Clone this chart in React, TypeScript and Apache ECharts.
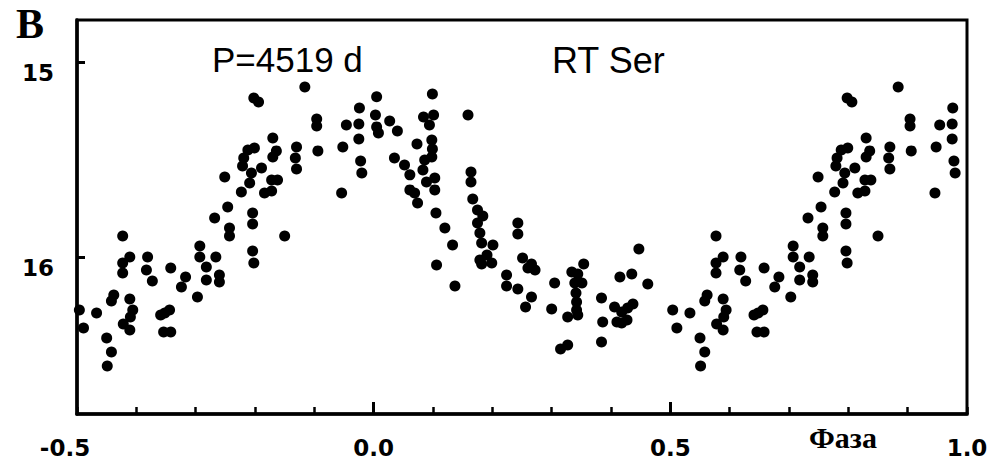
import React, { useEffect, useRef } from "react";
import * as echarts from "echarts";

// Phase-folded B light curve of RT Ser (phase, magnitude)
// Observations with phase in [-0.5, 0): repeated at phase + 1 on the plot
const pointsBeforeMax: [number, number][] = [
  [-0.116, 15.128], [-0.202, 15.185], [-0.194, 15.205], [-0.024, 15.236],
  [-0.096, 15.292], [-0.096, 15.328], [-0.046, 15.323], [-0.025, 15.318],
  [-0.170, 15.390], [-0.025, 15.395], [-0.201, 15.441], [-0.212, 15.451],
  [-0.170, 15.487], [-0.164, 15.456], [-0.130, 15.436], [-0.094, 15.456],
  [-0.052, 15.436], [-0.219, 15.492], [-0.221, 15.533], [-0.132, 15.492],
  [-0.130, 15.549], [-0.189, 15.544], [-0.022, 15.508], [-0.020, 15.569],
  [-0.206, 15.569], [-0.251, 15.590], [-0.209, 15.621], [-0.172, 15.605],
  [-0.162, 15.605], [-0.223, 15.667], [-0.184, 15.672], [-0.172, 15.662],
  [-0.054, 15.672], [-0.246, 15.744], [-0.268, 15.800], [-0.204, 15.774],
  [-0.204, 15.831], [-0.243, 15.851], [-0.243, 15.892], [-0.423, 15.892],
  [-0.150, 15.892], [-0.293, 15.944], [-0.293, 16.000], [-0.266, 16.000],
  [-0.411, 16.000], [-0.423, 16.031], [-0.423, 16.082], [-0.381, 16.000],
  [-0.383, 16.067], [-0.373, 16.123], [-0.342, 16.056], [-0.282, 16.051],
  [-0.282, 16.118], [-0.260, 16.092], [-0.260, 16.128], [-0.317, 16.103],
  [-0.324, 16.154], [-0.297, 16.205], [-0.204, 15.969], [-0.202, 16.031],
  [-0.438, 16.195], [-0.442, 16.226], [-0.411, 16.215], [-0.406, 16.272],
  [-0.410, 16.308], [-0.422, 16.344], [-0.411, 16.374], [-0.496, 16.272],
  [-0.467, 16.287], [-0.489, 16.364], [-0.359, 16.297], [-0.352, 16.287],
  [-0.344, 16.272], [-0.354, 16.385], [-0.342, 16.385], [-0.450, 16.415],
  [-0.442, 16.487], [-0.449, 16.559],
];

// Observations with phase in [0, 0.5]
const pointsAfterMax: [number, number][] = [
  [0.005, 15.179], [0.099, 15.164], [0.003, 15.272], [0.027, 15.303],
  [0.005, 15.333], [0.008, 15.364], [0.040, 15.354], [0.084, 15.282],
  [0.101, 15.272], [0.094, 15.323], [0.159, 15.272], [0.073, 15.421],
  [0.098, 15.400], [0.099, 15.446], [0.035, 15.492], [0.052, 15.528],
  [0.086, 15.503], [0.098, 15.487], [0.083, 15.554], [0.103, 15.595],
  [0.089, 15.615], [0.061, 15.579], [0.061, 15.656], [0.069, 15.672],
  [0.103, 15.656], [0.074, 15.723], [0.164, 15.564], [0.164, 15.615],
  [0.105, 15.774], [0.167, 15.703], [0.120, 15.851], [0.175, 15.759],
  [0.184, 15.790], [0.175, 15.826], [0.179, 15.877], [0.243, 15.826],
  [0.243, 15.882], [0.182, 15.928], [0.133, 15.938], [0.201, 15.938],
  [0.106, 16.041], [0.137, 16.149], [0.179, 16.015], [0.191, 15.990],
  [0.199, 16.031], [0.182, 16.036], [0.251, 16.005], [0.260, 16.056],
  [0.272, 16.067], [0.266, 16.036], [0.224, 16.092], [0.224, 16.149],
  [0.243, 16.164], [0.266, 16.205], [0.256, 16.256], [0.305, 16.133],
  [0.300, 16.267], [0.327, 16.308], [0.315, 16.472], [0.327, 16.451],
  [0.334, 16.077], [0.344, 16.087], [0.354, 16.036], [0.339, 16.133],
  [0.341, 16.185], [0.342, 16.231], [0.342, 16.272], [0.344, 16.297],
  [0.351, 16.133], [0.384, 16.210], [0.386, 16.333], [0.384, 16.436],
  [0.415, 16.103], [0.435, 16.087], [0.447, 15.959], [0.462, 16.138],
  [0.406, 16.256], [0.418, 16.282], [0.428, 16.262], [0.437, 16.241],
  [0.418, 16.338], [0.427, 16.323], [0.410, 16.333],
];

const xLabelValues = [-0.5, 0.0, 0.5, 1.0];
const xMajorTickValues = [0.0, 0.5];
const yTickValues = [15, 16];

const periodText = "P=4519 d";
const starName = "RT Ser";
const bandName = "B";
const xAxisName = "Фаза";

export default function App() {
  const ref = useRef<HTMLDivElement>(null);

  useEffect(() => {
    if (!ref.current) return;
    const chart = echarts.init(ref.current, undefined, { renderer: "svg" });

    const allPoints: [number, number][] = [
      ...pointsBeforeMax,
      ...pointsAfterMax,
      ...pointsBeforeMax.map(([p, m]) => [p + 1, m] as [number, number]),
    ];

    const labelFont = {
      fontFamily: "DejaVu Sans",
      fontWeight: "bold" as const,
      fontSize: 23,
      color: "#000",
    };

    const yMin = 14.785;
    const yMax = 16.805;

    chart.setOption({
      animation: false,
      backgroundColor: "#ffffff",
      grid: {
        left: 77,
        right: 26,
        top: 20,
        bottom: 50,
        show: true,
        borderColor: "#000",
        borderWidth: 3,
        backgroundColor: "transparent",
      },
      xAxis: [
        {
          type: "value",
          min: -0.5,
          max: 1.0,
          interval: 0.1,
          position: "bottom",
          axisLine: { show: true, onZero: false, lineStyle: { color: "#000", width: 3.5 } },
          axisTick: { show: true, inside: true, length: 7, lineStyle: { color: "#000", width: 2.5 } },
          splitLine: { show: false },
          axisLabel: {
            show: true,
            customValues: xLabelValues,
            margin: 22,
            ...labelFont,
            formatter: (v: number) =>
              v < 0 ? `{neg|${v.toFixed(1)}}` : v.toFixed(1),
            rich: {
              neg: { ...labelFont, padding: [0, 24, 0, 0] },
            },
          },
        },
        {
          type: "value",
          min: -0.5,
          max: 1.0,
          position: "bottom",
          axisLine: { show: false, onZero: false },
          axisLabel: { show: false },
          splitLine: { show: false },
          axisTick: {
            show: true,
            inside: true,
            length: 12,
            customValues: xMajorTickValues,
            lineStyle: { color: "#000", width: 3 },
          },
        },
      ],
      yAxis: {
        type: "value",
        inverse: true,
        min: yMin,
        max: yMax,
        axisLine: { show: true, onZero: false, lineStyle: { color: "#000", width: 3.5 } },
        axisTick: {
          show: true,
          inside: true,
          length: 8,
          customValues: yTickValues,
          lineStyle: { color: "#000", width: 3 },
        },
        splitLine: { show: false },
        axisLabel: { show: false },
      },
      graphic: [
        // y tick labels, printed just below their ticks as in the original
        ...yTickValues.map((v) => ({
          type: "text",
          x: 54,
          y: 20 + ((v - yMin) / (yMax - yMin)) * 394 + 11,
          style: {
            text: String(v),
            fill: "#000",
            font: "bold 23px 'DejaVu Sans'",
            align: "right",
            verticalAlign: "middle",
          },
        })),
        {
          type: "text",
          left: 16,
          top: 3,
          style: {
            text: bandName,
            fill: "#000",
            font: "bold 42px 'Liberation Serif'",
          },
        },
        {
          type: "text",
          x: 212,
          y: 59,
          style: {
            text: periodText,
            fill: "#000",
            font: "35px 'Liberation Sans'",
            verticalAlign: "middle",
          },
        },
        {
          type: "text",
          x: 552,
          y: 60,
          style: {
            text: starName,
            fill: "#000",
            font: "36px 'Liberation Sans'",
            verticalAlign: "middle",
          },
        },
        {
          type: "text",
          x: 843,
          y: 437,
          style: {
            text: xAxisName,
            fill: "#000",
            font: "bold 30px 'Liberation Serif'",
            align: "center",
            verticalAlign: "middle",
          },
        },
      ],
      series: [
        {
          type: "scatter",
          xAxisIndex: 0,
          data: allPoints,
          symbol: "circle",
          symbolSize: 11,
          itemStyle: { color: "#000", opacity: 1 },
          silent: true,
        },
      ],
    });

    return () => chart.dispose();
  }, []);

  return (
    <div
      ref={ref}
      style={{ position: "absolute", left: 0, top: 0, width: 993, height: 464 }}
    />
  );
}
